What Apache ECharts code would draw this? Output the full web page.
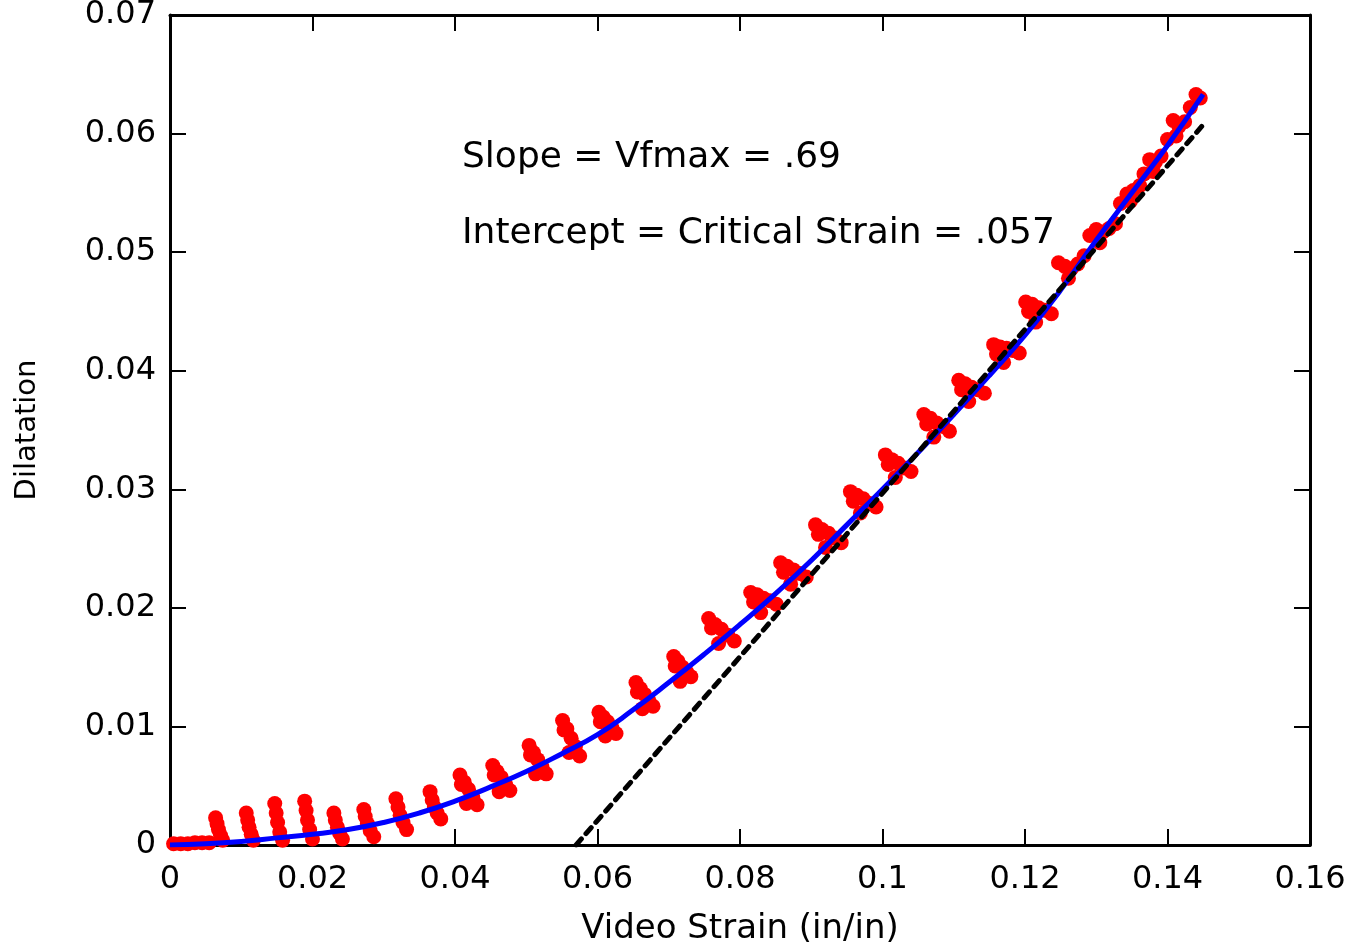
<!DOCTYPE html>
<html>
<head>
<meta charset="utf-8">
<script src="https://cdn.jsdelivr.net/npm/echarts@6/dist/echarts.min.js"></script>
<style>html,body{margin:0;padding:0;background:#fff}#c{width:1363px;height:946px}</style>
</head>
<body>
<div id="c"></div>
<script>
// Measured data (red points)
const redStrain = [
 0.0005,0.0015,0.0025,0.0035,0.0045,0.0055,
 0.0064,0.0066,0.0068,0.0071,0.0074,
 0.0107,0.0109,0.0111,0.0114,0.0117,
 0.0147,0.0149,0.0151,0.0154,0.0158,
 0.0189,0.0191,0.0193,0.0196,0.0200,
 0.0230,0.0232,0.0235,0.0238,0.0242,
 0.0272,0.0274,0.0277,0.0281,0.0286,
 0.0317,0.0320,0.0323,0.0327,0.0332,
 0.0365,0.0368,0.0371,0.0375,0.0380,
 0.0407,0.0413,0.0419,0.0425,0.0431,
 0.0453,0.0459,0.0465,0.0471,0.0477,
 0.0504,0.0510,0.0516,0.0522,0.0528,
 0.0551,0.0557,0.0563,0.0569,0.0575,
 0.0602,0.0608,0.0614,0.0620,0.0626,
 0.0654,0.0660,0.0666,0.0672,0.0678,
 0.0707,0.0713,0.0719,0.0725,0.0731,
 0.0756,0.0765,0.0774,0.0783,0.0792,
 0.0815,0.0824,0.0833,0.0842,0.0851,
 0.0857,0.0866,0.0875,0.0884,0.0893,
 0.0906,0.0915,0.0924,0.0933,0.0942,
 0.0955,0.0964,0.0973,0.0982,0.0991,
 0.1004,0.1013,0.1022,0.1031,0.1040,
 0.1058,0.1067,0.1076,0.1085,0.1094,
 0.1107,0.1116,0.1125,0.1134,0.1143,
 0.1156,0.1165,0.1174,0.1183,0.1192,
 0.1201,0.1210,0.1219,0.1228,0.1237,
 0.1247,0.1256,0.1265,0.1274,0.1283,
 0.1291,0.1300,0.1309,0.1318,0.1327,
 0.1334,0.1343,0.1352,0.1361,
 0.1367,0.1375,0.1383,0.1391,
 0.1400,0.1408,0.1416,0.1424,
 0.1432,0.1440,0.1446,
 0.0416,0.0409,0.0462,0.0455,0.0513,0.0506,0.0560,0.0553,0.0611,0.0604,
 0.0663,0.0656,0.0716,0.0709,0.0770,0.0760,0.0829,0.0819,0.0871,0.0861,
 0.0920,0.0910,0.0969,0.0959,0.1018,0.1008,0.1072,0.1062,0.1121,0.1111,
 0.1170,0.1160,0.1215,0.1205,0.1261,0.1305,0.1348,0.1380,0.1412
];
const redDilatation = [
 0.0001,0.0001,0.0001,0.0002,0.0002,0.0002,
 0.0023,0.0018,0.0013,0.0008,0.0004,
 0.0027,0.0021,0.0015,0.0009,0.0004,
 0.0035,0.0027,0.0019,0.0011,0.0004,
 0.0037,0.0029,0.0021,0.0013,0.0005,
 0.0027,0.0021,0.0015,0.0010,0.0005,
 0.0030,0.0024,0.0018,0.0012,0.0007,
 0.0039,0.0032,0.0025,0.0019,0.0013,
 0.0045,0.0038,0.0032,0.0027,0.0022,
 0.0059,0.0053,0.0047,0.0040,0.0034,
 0.0067,0.0062,0.0057,0.0051,0.0046,
 0.0084,0.0078,0.0072,0.0066,0.0060,
 0.0105,0.0098,0.0090,0.0083,0.0075,
 0.0112,0.0108,0.0104,0.0099,0.0094,
 0.0137,0.0132,0.0127,0.0122,0.0117,
 0.0159,0.0155,0.0150,0.0146,0.0142,
 0.0191,0.0186,0.0182,0.0177,0.0172,
 0.0213,0.0211,0.0208,0.0206,0.0203,
 0.0238,0.0235,0.0232,0.0229,0.0226,
 0.0270,0.0266,0.0263,0.0259,0.0255,
 0.0298,0.0295,0.0292,0.0288,0.0285,
 0.0329,0.0325,0.0322,0.0318,0.0315,
 0.0363,0.0360,0.0356,0.0353,0.0349,
 0.0392,0.0389,0.0386,0.0384,0.0381,
 0.0422,0.0420,0.0419,0.0417,0.0415,
 0.0458,0.0456,0.0453,0.0451,0.0448,
 0.0491,0.0488,0.0486,0.0490,0.0497,
 0.0514,0.0519,0.0517,0.0520,0.0524,
 0.0541,0.0549,0.0552,0.0556,
 0.0566,0.0578,0.0576,0.0581,
 0.0595,0.0611,0.0606,0.0610,
 0.0622,0.0633,0.0630,
 0.0035,0.0051,0.0045,0.0059,0.0060,0.0076,0.0078,0.0097,0.0092,0.0104,
 0.0115,0.0129,0.0138,0.0151,0.0170,0.0183,0.0196,0.0205,0.0220,0.0230,
 0.0251,0.0262,0.0280,0.0290,0.0310,0.0321,0.0344,0.0355,0.0374,0.0384,
 0.0407,0.0414,0.0441,0.0450,0.0478,0.0508,0.0543,0.0568,0.0598
];
// Blue fitted curve
const fitStrain = [0,0.005,0.01,0.015,0.02,0.025,0.03,0.035,0.04,0.045,0.05,0.055,0.06,0.065,0.07,0.075,0.08,0.085,0.09,0.095,0.1,0.105,0.11,0.115,0.12,0.125,0.13,0.135,0.14,0.145];
const fitDilatation = [0,0.0001,0.0003,0.0006,0.0009,0.0013,0.0019,0.0027,0.0037,0.0049,0.0062,0.0077,0.0093,0.0114,0.0137,0.0161,0.0186,0.0212,0.0240,0.0270,0.0300,0.0331,0.0363,0.0396,0.0430,0.0468,0.0510,0.0550,0.0590,0.0633];
// Black dashed tangent line (slope .69, intercept .057)
const tangentStrain = [0.057, 0.1448];
const tangentDilatation = [0, 0.0606];

const annotations = ['Slope = Vfmax = .69', 'Intercept = Critical Strain = .057'];
const xAxisTitle = 'Video Strain (in/in)';
const yAxisTitle = 'Dilatation';

const zip = (a, b) => a.map((v, i) => [v, b[i]]);
const FONT = 'DejaVu Sans';

const chart = echarts.init(document.getElementById('c'), null, {renderer: 'canvas'});
const axisLine = {show: true, onZero: false, lineStyle: {color: '#000', width: 3}};
const axisTick = {show: true, inside: true, length: 16, lineStyle: {color: '#000', width: 2}};
chart.setOption({
  animation: false,
  backgroundColor: '#fff',
  grid: {left: 170, right: 53, top: 15, bottom: 101, containLabel: false, outerBoundsMode: 'none'},
  xAxis: [{
    type: 'value', min: 0, max: 0.16, interval: 0.02, position: 'bottom',
    axisLine, axisTick, splitLine: {show: false},
    axisLabel: {color: '#000', fontSize: 32, fontFamily: FONT, margin: 19},
    name: xAxisTitle, nameLocation: 'middle', nameGap: 67,
    nameTextStyle: {color: '#000', fontSize: 34, fontFamily: FONT}
  }, {
    type: 'value', min: 0, max: 0.16, interval: 0.02, position: 'top',
    axisLine, axisTick, splitLine: {show: false}, axisLabel: {show: false}
  }],
  yAxis: [{
    type: 'value', min: 0, max: 0.07, interval: 0.01, position: 'left',
    axisLine, axisTick, splitLine: {show: false},
    axisLabel: {color: '#000', fontSize: 32, fontFamily: FONT, margin: 14},
    name: yAxisTitle, nameLocation: 'middle', nameGap: 128, nameRotate: 90,
    nameTextStyle: {color: '#000', fontSize: 29, fontFamily: FONT}
  }, {
    type: 'value', min: 0, max: 0.07, interval: 0.01, position: 'right',
    axisLine, axisTick, splitLine: {show: false}, axisLabel: {show: false}
  }],
  series: [{
    type: 'scatter', name: 'data', symbol: 'circle', symbolSize: 15,
    itemStyle: {color: '#ff0000', opacity: 1}, data: zip(redStrain, redDilatation), z: 2
  }, {
    type: 'line', name: 'fit', smooth: true, showSymbol: false, symbol: 'none',
    lineStyle: {color: '#0000ff', width: 5}, data: zip(fitStrain, fitDilatation), z: 3
  }, {
    type: 'line', name: 'tangent', showSymbol: false, symbol: 'none',
    lineStyle: {color: '#000', width: 5, type: [8, 7], cap: 'round'},
    data: zip(tangentStrain, tangentDilatation), z: 4
  }],
  graphic: [{
    type: 'text', x: 462, y: 158,
    style: {text: annotations[0], font: '36px "DejaVu Sans"', fill: '#000', verticalAlign: 'middle'}
  }, {
    type: 'text', x: 462, y: 234,
    style: {text: annotations[1], font: '36px "DejaVu Sans"', fill: '#000', verticalAlign: 'middle'}
  }]
});
</script>
</body>
</html>
